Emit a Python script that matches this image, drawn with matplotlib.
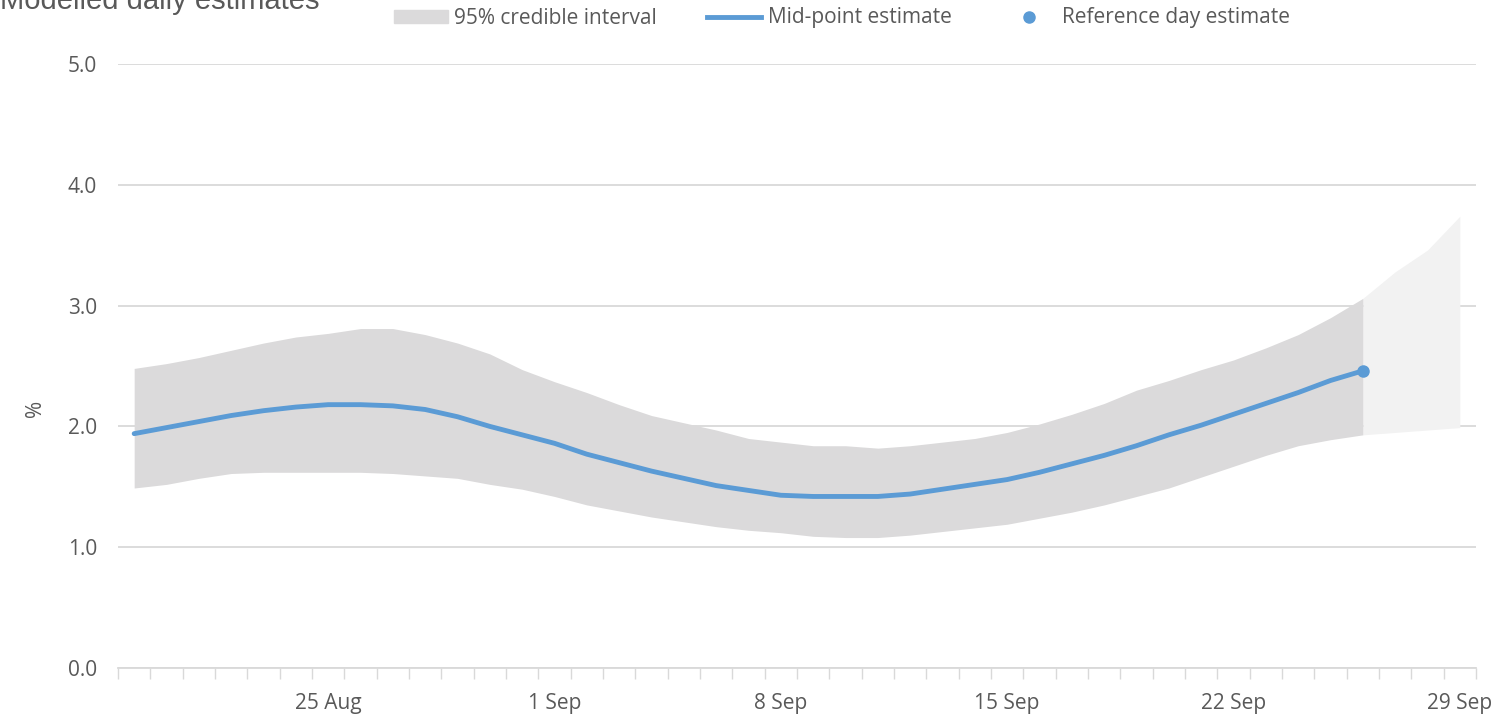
import numpy as np
import pandas as pd
import matplotlib
matplotlib.use("Agg")
import matplotlib.pyplot as plt
from matplotlib.patches import Patch
from matplotlib.lines import Line2D

'''数据'''
# 每日一个类别，19 Aug - 29 Sep
dates = pd.date_range("2020-08-19", "2020-09-29", freq="D")
tick_labels = ["25 Aug", "1 Sep", "8 Sep", "15 Sep", "22 Sep", "29 Sep"]

# 中位估计 (19 Aug - 26 Sep)
mid = [1.94, 1.99, 2.04, 2.09, 2.13, 2.16, 2.18, 2.18, 2.17, 2.14,
       2.08, 2.00, 1.93, 1.86, 1.77, 1.70, 1.63, 1.57, 1.51, 1.47,
       1.43, 1.42, 1.42, 1.42, 1.44, 1.48, 1.52, 1.56, 1.62, 1.69,
       1.76, 1.84, 1.93, 2.01, 2.10, 2.19, 2.28, 2.38, 2.46]
# 95% 可信区间
upper = [2.48, 2.52, 2.57, 2.63, 2.69, 2.74, 2.77, 2.81, 2.81, 2.76,
         2.69, 2.60, 2.47, 2.37, 2.28, 2.18, 2.09, 2.03, 1.97, 1.90,
         1.87, 1.84, 1.84, 1.82, 1.84, 1.87, 1.90, 1.95, 2.02, 2.10,
         2.19, 2.30, 2.38, 2.47, 2.55, 2.65, 2.76, 2.90, 3.06]
lower = [1.49, 1.52, 1.57, 1.61, 1.62, 1.62, 1.62, 1.62, 1.61, 1.59,
         1.57, 1.52, 1.48, 1.42, 1.35, 1.30, 1.25, 1.21, 1.17, 1.14,
         1.12, 1.09, 1.08, 1.08, 1.10, 1.13, 1.16, 1.19, 1.24, 1.29,
         1.35, 1.42, 1.49, 1.58, 1.67, 1.76, 1.84, 1.89, 1.93]
# 参考日之后的区间 (26 Sep - 29 Sep)
upper_after = [3.06, 3.28, 3.46, 3.74]
lower_after = [1.93, 1.95, 1.97, 1.99]
ref_value = 2.46

'''样式'''
blue = "#5B9BD5"
band = "#DBDADB"
band_light = "#F2F2F2"
grid = "#D9D9D9"
txt = "#595959"
plt.rcParams["font.family"] = ["Open Sans", "DejaVu Sans"]

fig = plt.figure(figsize=(15.01, 7.16), dpi=100)
ax = fig.add_axes([118 / 1501, 1 - 668 / 716, (1476 - 118) / 1501, (668 - 64) / 716])

x = np.arange(len(dates))
n = len(mid)
x_mid = x[:n]
x_after = x[n - 1:n - 1 + len(upper_after)]

ax.fill_between(x_after, lower_after, upper_after, color=band_light, lw=0, zorder=1)
ax.fill_between(x_mid, lower, upper, color=band, lw=0, zorder=2)
ax.plot(x_mid, mid, color=blue, lw=3.5, solid_capstyle="round", zorder=3)
ax.plot(x_mid[-1], ref_value, "o", color=blue, ms=8, zorder=4)

ax.set_xlim(-0.5, len(dates) - 0.5)
ax.set_ylim(0, 5)
ax.set_yticks(np.arange(0, 5.1, 1.0))
ax.set_yticklabels(["%.1f" % v for v in np.arange(0, 5.1, 1.0)])
ax.yaxis.grid(True, color=grid, lw=1.3)
ax.set_axisbelow(True)

# x轴: 每个类别边界一个小刻度，标签在类别中心
label_pos = [list(dates.strftime("%-d %b")).index(t) for t in tick_labels]
ax.set_xticks(label_pos)
ax.set_xticklabels(tick_labels)
ax.set_xticks(np.arange(-0.5, len(dates), 1.0), minor=True)
ax.tick_params(axis="x", which="major", length=0, pad=18, labelsize=15, colors=txt)
ax.tick_params(axis="x", which="minor", length=8, width=1, color=grid)
ax.tick_params(axis="y", length=0, pad=15, labelsize=15, colors=txt)

for s in ["top", "right", "left"]:
    ax.spines[s].set_visible(False)
ax.spines["bottom"].set_color(grid)
ax.spines["bottom"].set_linewidth(1.3)

ax.set_ylabel("%", fontsize=15, color=txt)
ax.yaxis.set_label_coords(-0.053, 0.43)

fig.text(0.0, 1 - 9 / 716, "Modelled daily estimates", fontsize=21, color=txt,
         family=["Liberation Sans", "DejaVu Sans"], va="baseline", ha="left")

handles = [Patch(color=band, label="95% credible interval"),
           Line2D([], [], color=blue, lw=3.5, label="Mid-point estimate"),
           Line2D([], [], color=blue, marker="o", ls="none", ms=8, label="Reference day estimate")]
fig.legend(handles=handles, loc="center", bbox_to_anchor=(842 / 1501, 1 - 18 / 716), ncol=3,
           frameon=False, fontsize=15, labelcolor=txt, handlelength=2.6, handleheight=0.6,
           columnspacing=2.4, handletextpad=0.3)

fig.savefig("out.png", dpi=100)
